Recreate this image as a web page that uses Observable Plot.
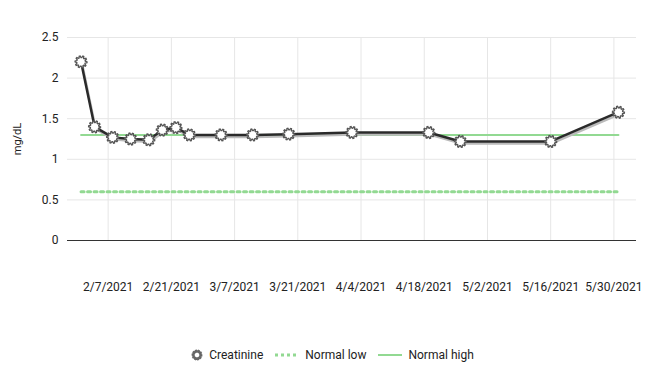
<!DOCTYPE html>
<html>
<head>
<meta charset="utf-8">
<script src="https://cdn.jsdelivr.net/npm/d3@7"></script>
<script src="https://cdn.jsdelivr.net/npm/@observablehq/plot@0.6"></script>
<style>
  body { margin: 0; background: #fff; font-family: "Segoe UI", Roboto, "Liberation Sans", sans-serif; }
  #chart { position: relative; width: 665px; height: 376px; }
  #legend { position: absolute; left: 0; top: 348px; width: 665px; display: flex; justify-content: center; align-items: center; font-size: 12px; color: #222; }
  .item { display: flex; align-items: center; margin: 0 6px; }
  .item svg { margin-right: 6px; }
  svg [aria-label="y-axis label"] text { font-size: 11px; }
</style>
</head>
<body>
<div id="chart"></div>
<script>
// ---- data ----
const dates = ["2021-02-01","2021-02-04","2021-02-08","2021-02-12","2021-02-16","2021-02-19","2021-02-22","2021-02-25","2021-03-04","2021-03-11","2021-03-19","2021-04-02","2021-04-19","2021-04-26","2021-05-16","2021-05-31"];
const creatinine = [2.2, 1.4, 1.27, 1.25, 1.24, 1.36, 1.39, 1.3, 1.3, 1.3, 1.31, 1.33, 1.33, 1.22, 1.22, 1.58];
const normalLow = 0.6;
const normalHigh = 1.3;
const tickDates = ["2021-02-07","2021-02-21","2021-03-07","2021-03-21","2021-04-04","2021-04-18","2021-05-02","2021-05-16","2021-05-30"];
const yTicks = [0, 0.5, 1, 1.5, 2, 2.5];
const xDomain = ["2021-01-29", "2021-06-04"];
const seriesNames = ["Creatinine", "Normal low", "Normal high"];

// ---- build ----
const parse = d3.utcParse("%Y-%m-%d");
const rows = dates.map((d, i) => ({date: parse(d), value: creatinine[i]}));
const ends = [parse(dates[0]), parse(dates[dates.length - 1])];
const lowRows = ends.map(d => ({date: d, value: normalLow}));
const highRows = ends.map(d => ({date: d, value: normalHigh}));
const fmt = d3.utcFormat("%-m/%-d/%Y");

const gear = {
  draw(context, size) {
    const n = 10, R = 6, r = 4.3;
    for (let i = 0; i < n * 4; i++) {
      const a = (i / (n * 4)) * 2 * Math.PI;
      const rad = (i % 4 < 2) ? R : r;
      const x = rad * Math.cos(a), y = rad * Math.sin(a);
      if (i === 0) context.moveTo(x, y); else context.lineTo(x, y);
    }
    context.closePath();
  }
};

const green = "#92d992";
const font = '"Segoe UI", Roboto, "Liberation Sans", sans-serif';
const plot = Plot.plot({
  width: 665,
  height: 300,
  marginLeft: 67,
  marginRight: 29,
  marginTop: 37,
  marginBottom: 60,
  style: {fontFamily: font, fontSize: "12px", color: "#222"},
  x: {type: "utc", domain: xDomain.map(parse)},
  y: {domain: [0, 2.5]},
  marks: [
    Plot.gridY(yTicks, {stroke: "#e6e6e6", strokeOpacity: 1}),
    Plot.gridX(tickDates.map(parse), {stroke: "#e6e6e6", strokeOpacity: 1}),
    Plot.axisY(yTicks, {tickSize: 0, tickPadding: 9, fontSize: 12, tickFormat: d => String(d), label: "mg/dL", labelAnchor: "center", labelArrow: "none", labelOffset: 54}),
    Plot.axisX(tickDates.map(parse), {tickSize: 0, tickPadding: 42, tickFormat: fmt, fontSize: 12, label: null}),
    Plot.ruleY([0], {stroke: "#333", strokeWidth: 1}),
    Plot.line(lowRows, {x: "date", y: "value", stroke: green, strokeWidth: 3, strokeDasharray: "3,3.5"}),
    Plot.line(highRows, {x: "date", y: "value", stroke: green, strokeWidth: 2}),
    Plot.line(rows, {x: "date", y: "value", stroke: "#bbb", strokeWidth: 2.5, dx: 1, dy: 2}),
    Plot.line(rows, {x: "date", y: "value", stroke: "#2a2a2a", strokeWidth: 2.5}),
    Plot.dot(rows, {x: "date", y: "value", symbol: gear, r: 6, fill: "#fff", stroke: "#555", strokeWidth: 1.3})
  ]
});
const chart = document.getElementById("chart");
chart.appendChild(plot);

// legend
const legend = document.createElement("div");
legend.id = "legend";
const gearPath = (() => { const p = d3.path(); gear.draw(p, 0); return p.toString(); })();
const sw = [
  `<svg width="12" height="12"><path transform="translate(6,6) scale(0.75)" d="${gearPath}" fill="#fff" stroke="#666" stroke-width="2.5"/></svg>`,
  `<svg width="24" height="6"><line x1="0" y1="3" x2="24" y2="3" stroke="${green}" stroke-width="3" stroke-dasharray="3,3"/></svg>`,
  `<svg width="24" height="6"><line x1="0" y1="3" x2="24" y2="3" stroke="${green}" stroke-width="2"/></svg>`
];
seriesNames.forEach((name, i) => {
  const it = document.createElement("div");
  it.className = "item";
  it.innerHTML = sw[i] + `<span>${name}</span>`;
  legend.appendChild(it);
});
chart.appendChild(legend);
</script>
</body>
</html>
